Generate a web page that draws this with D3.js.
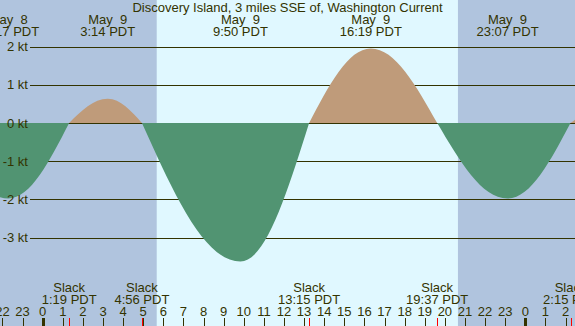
<!DOCTYPE html>
<html><head><meta charset="utf-8">
<script src="https://cdn.jsdelivr.net/npm/d3@7"></script>
<style>
html,body{margin:0;padding:0;background:#fff;overflow:hidden}
svg{display:block}
text{font-family:"Liberation Sans",Arial,sans-serif;font-size:13px;fill:#333300}
</style>
</head><body>
<svg id="c" width="575" height="326"></svg>
<script>
// ---------- data (hours counted from May 9 00:00 PDT) ----------
const title = "Discovery Island, 3 miles SSE of, Washington Current";
const hourTicks  = [-2,-1,0,1,2,3,4,5,6,7,8,9,10,11,12,13,14,15,16,17,18,19,20,21,22,23,24,25,26];
const hourLabels = ["22","23","0","1","2","3","4","5","6","7","8","9","10","11","12","13","14","15","16","17","18","19","20","21","22","23","0","1","2"];
const midnightHours = [0, 24];
const ktTicks  = [2, 1, 0, -1, -2, -3];
const ktLabels = ["2 kt", "1 kt", "0 kt", "-1 kt", "-2 kt", "-3 kt"];
const sunrise = 5.67, sunset = 20.65;

// current events: slack (0) and max flood / ebb
const eventHours  = [-5.17, -1.72, 1.317, 3.233, 4.933, 9.833, 13.25, 16.317, 19.617, 23.117, 26.25, 29.1];
const eventValues = [0,     -1.98, 0,     0.63,  0,     -3.63, 0,     1.95,   0,      -1.98,  0,     0.7];

const extremeHours = [-1.72, 3.233, 9.833, 16.317, 23.117];
const extremeDays  = ["May  8", "May  9", "May  9", "May  9", "May  9"];
const extremeTimes = ["22:17 PDT", "3:14 PDT", "9:50 PDT", "16:19 PDT", "23:07 PDT"];

const slackHours  = [1.317, 4.933, 13.25, 19.617, 26.25];
const slackTimes  = ["1:19 PDT", "4:56 PDT", "13:15 PDT", "19:37 PDT", "2:15 PDT"];

// ---------- styles ----------
const W = 575, H = 326;
const ink = "#333300", night = "#b0c4de", day = "#e0f8ff";
const floodCol = "#bf9b7a", ebbCol = "#519472";

const x = d3.scaleLinear().domain([0, 24]).range([42.7, 525.3]);
const y = d3.scaleLinear().domain([-3, 2]).range([237.5, 46.5]);

const svg = d3.select("#c");

// backgrounds
svg.append("rect").attr("x", 0).attr("y", 0).attr("width", W).attr("height", H).attr("fill", night);
svg.append("rect").attr("x", x(sunrise)).attr("y", 0)
  .attr("width", x(sunset) - x(sunrise)).attr("height", H).attr("fill", day);

// grid lines
svg.append("g").selectAll("line").data(ktTicks).join("line")
  .attr("x1", 30).attr("x2", W)
  .attr("y1", d => Math.round(y(d)) + 0.5).attr("y2", d => Math.round(y(d)) + 0.5)
  .attr("stroke", ink).attr("stroke-width", 1);

// curve: quarter-wave bezier between slack and extreme points
function quarterWave(zeroY) {
  const P = 0.32, Q = 0.37, HP = Math.PI / 2;
  function C(ctx) { this._context = ctx; }
  C.prototype = {
    areaStart() { this._line = 0; },
    areaEnd() { this._line = NaN; },
    lineStart() { this._point = 0; },
    lineEnd() {
      if (this._line || (this._line !== 0 && this._point === 1)) this._context.closePath();
      this._line = 1 - this._line;
    },
    point(px, py) {
      px = +px; py = +py;
      const c = this._context;
      if (this._point === 0) {
        this._point = 1;
        this._line ? c.lineTo(px, py) : c.moveTo(px, py);
      } else {
        const x0 = this._x0, y0 = this._y0;
        const s0 = Math.abs(y0 - zeroY) < 0.01, s1 = Math.abs(py - zeroY) < 0.01;
        const dx = px - x0, dy = py - y0;
        if (s0 && s1) c.lineTo(px, py);
        else if (s0) c.bezierCurveTo(x0 + P * dx, y0 + P * HP * dy, px - Q * dx, py, px, py);
        else if (s1) c.bezierCurveTo(x0 + Q * dx, y0, px - P * dx, py - P * HP * dy, px, py);
        else c.bezierCurveTo(x0 + dx * 0.36, y0, px - dx * 0.36, py, px, py);
      }
      this._x0 = px; this._y0 = py;
    }
  };
  return ctx => new C(ctx);
}

const events = eventHours.map((t, i) => ({ t, v: eventValues[i] }));
const zeroY = y(0);
const area = d3.area().x(d => x(d.t)).y0(zeroY).y1(d => y(d.v)).curve(quarterWave(zeroY));

const defs = svg.append("defs");
defs.append("clipPath").attr("id", "above").append("rect")
  .attr("x", 0).attr("y", 0).attr("width", W).attr("height", zeroY);
defs.append("clipPath").attr("id", "below").append("rect")
  .attr("x", 0).attr("y", zeroY).attr("width", W).attr("height", H - zeroY);

svg.append("path").datum(events).attr("d", area).attr("fill", floodCol).attr("clip-path", "url(#above)");
svg.append("path").datum(events).attr("d", area).attr("fill", ebbCol).attr("clip-path", "url(#below)");

// y labels
svg.append("g").selectAll("text").data(ktTicks).join("text")
  .attr("x", 28).attr("y", d => y(d) + 4.7).attr("text-anchor", "end")
  .text((d, i) => ktLabels[i]);

// title
svg.append("text").attr("x", W / 2).attr("y", 12).attr("text-anchor", "middle").text(title);

// extreme labels
const ex = svg.append("g").selectAll("g").data(extremeHours).join("g");
ex.append("text").attr("x", d => x(d)).attr("y", 24.3).attr("text-anchor", "middle")
  .style("white-space", "pre").text((d, i) => extremeDays[i]);
ex.append("text").attr("x", d => x(d)).attr("y", 35.7).attr("text-anchor", "middle")
  .text((d, i) => extremeTimes[i]);

// slack labels
const sl = svg.append("g").selectAll("g").data(slackHours).join("g");
sl.append("text").attr("x", d => x(d)).attr("y", 292).attr("text-anchor", "middle").text("Slack");
sl.append("text").attr("x", d => x(d)).attr("y", 303.5).attr("text-anchor", "middle")
  .text((d, i) => slackTimes[i]);

// hour labels & ticks
svg.append("g").selectAll("text").data(hourTicks).join("text")
  .attr("x", d => x(d)).attr("y", 316).attr("text-anchor", "middle")
  .text((d, i) => hourLabels[i]);
svg.append("g").selectAll("line").data(hourTicks).join("line")
  .attr("x1", d => Math.round(x(d)) + 0.5).attr("x2", d => Math.round(x(d)) + 0.5)
  .attr("y1", 318).attr("y2", H).attr("stroke", ink).attr("stroke-width", 1);
svg.append("g").selectAll("rect").data(midnightHours).join("rect")
  .attr("x", d => Math.round(x(d)) - 1).attr("y", 318).attr("width", 3).attr("height", H - 318)
  .attr("fill", ink);
svg.append("g").selectAll("line").data(slackHours).join("line")
  .attr("x1", d => Math.round(x(d)) + 0.5).attr("x2", d => Math.round(x(d)) + 0.5)
  .attr("y1", 318).attr("y2", H).attr("stroke", "#ff0000").attr("stroke-width", 1);
</script>
</body></html>
